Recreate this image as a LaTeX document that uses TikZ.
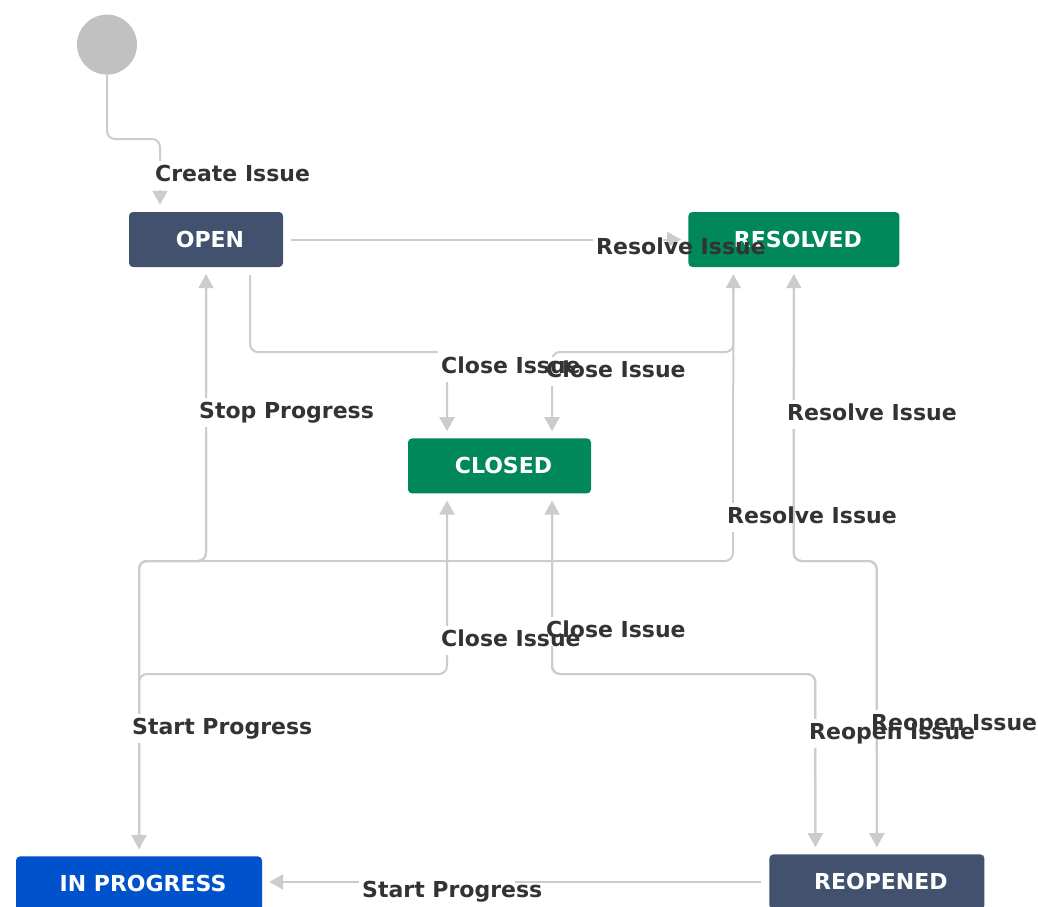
\documentclass[tikz,border=0pt]{standalone}
\usepackage{fontspec}
\setmainfont{DejaVu Sans}
\usetikzlibrary{positioning,arrows.meta}
\definecolor{slate}{HTML}{42526E}
\definecolor{jade}{HTML}{00875A}
\definecolor{azure}{HTML}{0052CC}
\definecolor{wire}{HTML}{CCCCCC}
\definecolor{dot}{HTML}{C1C1C1}
\definecolor{ink}{HTML}{333333}
\pgfdeclarelayer{edges}
\pgfdeclarelayer{gaps}
\pgfsetlayers{edges,gaps,main}
\newcommand\flowfont{\fontsize{22}{26}\selectfont\bfseries}

\begin{document}
\begin{tikzpicture}[x=1pt,y=-1pt,>={Triangle[width=15pt,length=14pt]},
  status/.style={shape=rectangle,rounded corners=4pt,fill=#1,text=white,font=\flowfont,
    minimum height=55pt,inner sep=0pt,execute at begin node=\kern8pt},
  flow/.style={draw=wire,line width=2pt,rounded corners=8pt,->,shorten >=7pt,shorten <=8pt},
  tag/.style={font=\flowfont,text=ink,anchor=west,inner sep=3pt,text height=16.5pt,text depth=5.5pt},]
\useasboundingbox (0,0) rectangle (1038,906);
\begin{pgfonlayer}{edges}
\fill[white] (0,0) rectangle (1038,906);
\end{pgfonlayer}

\node (open) [status=slate, minimum width=154pt] at (206,239.5) {OPEN};
\node (start) [circle, fill=dot, minimum size=60pt, inner sep=0pt, above=137pt of open, xshift=-99pt] {};
\node (resolved) [status=jade, minimum width=211pt, right=405pt of open] {RESOLVED};
\node (closed) [status=jade, minimum width=183pt, below=171pt of open, xshift=293.5pt] {CLOSED};
\node (inprog) [status=azure, minimum width=246pt, below=589pt of open, xshift=-67pt] {IN PROGRESS};
\node (reopened) [status=slate, minimum width=215pt, right=507pt of inprog, yshift=2pt] {REOPENED};

\begin{pgfonlayer}{edges}
\draw[flow,shorten <=0pt] (start) |- (160,139) -- ([xshift=-46pt]open.north);
\draw[flow] (open) -- (resolved);
\draw[flow] ([xshift=44pt]open.south) |- (447,352) -- ([xshift=-52.5pt]closed.north);
\draw[flow] ([xshift=-60.5pt]resolved.south) |- (552,352) -- ([xshift=52.5pt]closed.north);
\draw[flow] (open) |- (139,561) -- (inprog);
\draw[flow] (inprog) |- (206,561) -- (open);
\draw[flow] (inprog) |- (733,561) -- ([xshift=-60.5pt]resolved.south);
\draw[flow] (inprog) |- (447,674) -- ([xshift=-52.5pt]closed.south);
\draw[flow] ([xshift=-61.5pt]reopened.north) |- (552,674) -- ([xshift=52.5pt]closed.south);
\draw[flow] ([xshift=52.5pt]closed.south) |- (815,674) -- ([xshift=-61.5pt]reopened.north);
\draw[flow] (resolved) |- (876.5,561) -- (reopened);
\draw[flow] (reopened) |- (793.5,561) -- (resolved);
\draw[flow] (reopened) -- (reopened -| inprog.east);
\end{pgfonlayer}

\node[tag] (lCreate) at (152,175.5) {Create Issue};
\node[tag] (lResA) at (593,248.5) {Resolve Issue};
\node[tag] (lCloseA) at (438,367.5) {Close Issue};
\node[tag] (lCloseB) at (543,371.5) {Close Issue};
\node[tag] (lStop) at (196,412.5) {Stop Progress};
\node[tag] (lResB) at (784,414.5) {Resolve Issue};
\node[tag] (lResC) at (724,517.5) {Resolve Issue};
\node[tag] (lCloseD) at (543,631.5) {Close Issue};
\node[tag] (lCloseC) at (438,640.5) {Close Issue};
\node[tag] (lStartA) at (129,728.5) {Start Progress};
\node[tag] (lReopF) at (868,724.5) {Reopen Issue};
\node[tag] (lReopE) at (806,733.5) {Reopen Issue};
\node[tag] (lStartB) at (359,891.5) {Start Progress};

\begin{pgfonlayer}{gaps}
\foreach \l/\w/\t in {lCreate/20pt/0pt, lResA/70pt/0pt, lCloseA/20pt/3pt, lCloseB/20pt/0pt,
    lStop/20pt/0pt, lResB/20pt/0pt, lResC/20pt/0pt, lCloseC/20pt/0pt, lCloseD/20pt/0pt,
    lStartA/20pt/0pt, lReopE/20pt/0pt, lReopF/20pt/0pt, lStartB/156pt/0pt}
  \fill[white] (\l.south west) rectangle ([xshift=\w,yshift=\t]\l.north west);
\end{pgfonlayer}
\end{tikzpicture}
\end{document}
